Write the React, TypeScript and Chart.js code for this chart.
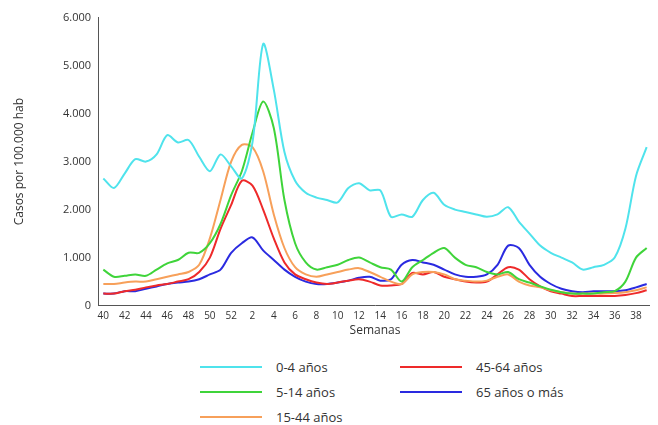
import { useEffect, useRef } from 'react'
import { Chart, registerables } from 'chart.js'

Chart.register(...registerables)

const weeks = [40, 41, 42, 43, 44, 45, 46, 47, 48, 49, 50, 51, 52,
  1, 2, 3, 4, 5, 6, 7, 8, 9, 10, 11, 12, 13, 14, 15, 16, 17, 18, 19, 20,
  21, 22, 23, 24, 25, 26, 27, 28, 29, 30, 31, 32, 33, 34, 35, 36, 37, 38, 39]

const age0_4 = [2650, 2450, 2750, 3050, 3000, 3150, 3550, 3400, 3450, 3100, 2800, 3150, 2900,
  2650, 3400, 5450, 4500, 3200, 2600, 2350, 2250, 2200, 2150, 2450, 2550, 2400, 2400, 1850, 1900, 1850, 2200, 2350, 2100,
  2000, 1950, 1900, 1850, 1900, 2050, 1750, 1500, 1250, 1100, 1000, 900, 750, 800, 850, 1000, 1600, 2700, 3300]
const age5_14 = [750, 600, 620, 650, 620, 750, 880, 950, 1100, 1100, 1300, 1700, 2300,
  2800, 3600, 4250, 3700, 2200, 1300, 900, 750, 800, 850, 950, 1000, 900, 800, 750, 500, 800, 950, 1100, 1200,
  1000, 850, 800, 700, 650, 700, 550, 480, 400, 330, 280, 250, 250, 250, 280, 300, 500, 1000, 1200]
const age15_44 = [450, 450, 480, 500, 500, 550, 600, 650, 700, 850, 1400, 2200, 3000,
  3350, 3300, 2800, 1900, 1200, 800, 650, 600, 650, 700, 750, 780, 700, 600, 500, 450, 650, 700, 700, 650,
  550, 520, 500, 520, 600, 650, 500, 420, 380, 320, 280, 250, 250, 250, 250, 260, 280, 320, 380]
const age45_64 = [250, 250, 300, 330, 380, 420, 450, 500, 550, 700, 1000, 1600, 2100,
  2600, 2500, 2000, 1400, 900, 650, 550, 480, 450, 480, 520, 550, 500, 420, 420, 450, 680, 650, 700, 600,
  550, 500, 480, 500, 650, 800, 750, 550, 400, 300, 250, 200, 200, 200, 200, 200, 220, 260, 320]
const age65 = [250, 250, 300, 300, 350, 400, 450, 480, 500, 550, 650, 750, 1100,
  1300, 1420, 1150, 950, 750, 600, 500, 450, 450, 480, 520, 580, 600, 520, 550, 850, 950, 900, 850, 750,
  650, 600, 600, 650, 850, 1250, 1200, 850, 600, 450, 350, 300, 280, 300, 300, 300, 320, 380, 450]

const series = [
  { label: '0-4 años', data: age0_4, color: '#4fe3ec' },
  { label: '5-14 años', data: age5_14, color: '#3fd43a' },
  { label: '15-44 años', data: age15_44, color: '#f7a05a' },
  { label: '45-64 años', data: age45_64, color: '#ee2a2a' },
  { label: '65 años o más', data: age65, color: '#2a2ae0' },
]

const font = '"Open Sans", "Liberation Sans", sans-serif'

function LegendItem({ label, color }: { label: string; color: string }) {
  return (
    <div style={{ display: 'flex', alignItems: 'center', height: 25 }}>
      <div style={{ width: 62, height: 2, background: color, marginRight: 14 }} />
      <span style={{ fontSize: 13, color: '#333' }}>{label}</span>
    </div>
  )
}

export default function App() {
  const chartRef = useRef<HTMLCanvasElement>(null)

  useEffect(() => {
    if (!chartRef.current) return
    const chart = new Chart(chartRef.current, {
      type: 'line',
      data: {
        labels: weeks.map(String),
        datasets: series.map(s => ({
          label: s.label,
          data: s.data,
          borderColor: s.color,
          backgroundColor: s.color,
          borderWidth: 2,
          pointRadius: 0,
          tension: 0.3,
        })),
      },
      options: {
        animation: false,
        responsive: true,
        maintainAspectRatio: false,
        layout: { padding: { left: 0, right: 0, top: 5 } },
        plugins: { legend: { display: false }, tooltip: { enabled: false } },
        scales: {
          x: {
            offset: true,
            grid: { display: false, tickLength: 4 },
            border: { color: '#555' },
            ticks: {
              autoSkip: false,
              maxRotation: 0,
              padding: 1,
              color: '#333',
              font: { family: font, size: 10 },
              callback: (_v, i) => (i % 2 === 0 ? weeks[i] : ''),
            },
            title: { display: true, text: 'Semanas', color: '#333', padding: 0, font: { family: font, size: 12 } },
          },
          y: {
            min: 0,
            max: 6000,
            afterFit: s => { s.width = 90 },
            grid: { display: false, tickLength: 4 },
            border: { color: '#555' },
            ticks: {
              stepSize: 1000,
              color: '#333',
              font: { family: font, size: 11 },
              callback: v => Number(v).toLocaleString('de-DE'),
            },
            title: { display: true, text: 'Casos por 100.000 hab', color: '#333', padding: 4, font: { family: font, size: 12 } },
          },
        },
      },
    })
    return () => chart.destroy()
  }, [])

  return (
    <div style={{ width: 644, fontFamily: font }}>
      <div style={{ height: 330, position: 'relative' }}>
        <canvas ref={chartRef} />
      </div>
      <div style={{ display: 'flex', marginLeft: 192, marginTop: 16 }}>
        <div style={{ width: 200 }}>
          <LegendItem label={series[0].label} color={series[0].color} />
          <LegendItem label={series[1].label} color={series[1].color} />
          <LegendItem label={series[2].label} color={series[2].color} />
        </div>
        <div>
          <LegendItem label={series[3].label} color={series[3].color} />
          <LegendItem label={series[4].label} color={series[4].color} />
        </div>
      </div>
    </div>
  )
}
